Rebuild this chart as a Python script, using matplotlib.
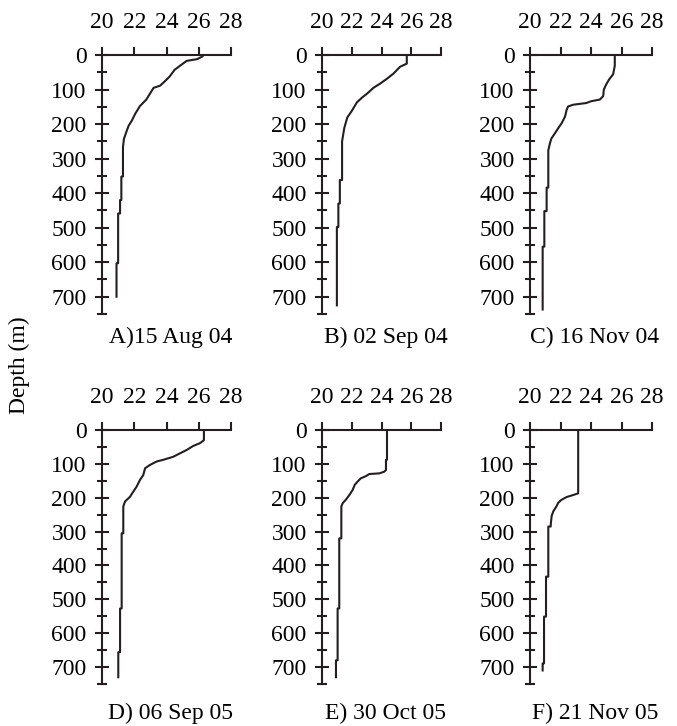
import matplotlib
matplotlib.use("Agg")
import matplotlib.pyplot as plt
from matplotlib.ticker import MultipleLocator

plt.rcParams['font.family'] = ['Liberation Serif', 'DejaVu Serif']

# temperature profiles (deg C) vs depth (m)
depth_a = [0, 5, 12, 17, 29, 43, 62, 76, 89, 95, 110, 129, 148, 171, 190, 205, 224, 243, 267,
           352, 352, 420, 420, 459, 459, 603, 603, 700]
temp_a = [26.3, 26.2, 25.9, 25.25, 24.9, 24.5, 24.2, 23.9, 23.6, 23.2, 23.0, 22.75, 22.35, 22.05,
          21.85, 21.65, 21.5, 21.36, 21.3, 21.3, 21.2, 21.2, 21.12, 21.12, 21.0, 21.0, 20.9, 20.9]

depth_b = [0, 25, 34, 54, 69, 83, 95, 113, 123, 137, 162, 181, 211, 250,
           362, 362, 430, 430, 498, 498, 725]
temp_b = [25.7, 25.7, 25.25, 24.8, 24.36, 23.9, 23.46, 23.0, 22.7, 22.35, 22.0, 21.7, 21.5, 21.35,
          21.35, 21.2, 21.2, 21.1, 21.1, 21.0, 21.0]

depth_c = [0, 31, 56, 70, 85, 100, 119, 129, 134, 139, 144, 149, 159, 178, 198, 212, 227, 242,
           257, 276, 384, 384, 452, 452, 555, 555, 737]
temp_c = [25.56, 25.56, 25.45, 25.2, 25.0, 24.84, 24.8, 24.58, 24.0, 23.7, 22.83, 22.5, 22.4,
          22.3, 22.07, 21.85, 21.63, 21.4, 21.3, 21.2, 21.2, 21.09, 21.09, 20.94, 20.94, 20.83, 20.83]

depth_d = [0, 30, 39, 47, 59, 69, 79, 88, 93, 103, 113, 133, 147, 167, 182, 197, 211, 226,
           305, 305, 527, 527, 656, 656, 730]
temp_d = [26.32, 26.32, 26.07, 25.66, 25.25, 24.83, 24.42, 23.8, 23.39, 22.98, 22.67, 22.56,
          22.36, 22.15, 21.94, 21.74, 21.43, 21.32, 21.32, 21.22, 21.22, 21.12, 21.12, 21.01, 21.01]

depth_e = [0, 88, 88, 118, 123, 128, 130, 136, 143, 152, 162, 177, 192, 206, 216, 226,
           320, 320, 527, 527, 680, 680, 730]
temp_e = [24.37, 24.37, 24.3, 24.3, 24.19, 23.86, 23.18, 22.96, 22.6, 22.4, 22.2, 22.06, 21.84,
          21.6, 21.39, 21.3, 21.3, 21.16, 21.16, 21.05, 21.05, 20.94, 20.94]

depth_f = [0, 187, 192, 198, 206, 215, 225, 240, 254, 279, 285, 285, 433, 433, 551, 551, 689, 689, 710]
temp_f = [23.16, 23.16, 22.83, 22.4, 22.07, 21.85, 21.74, 21.53, 21.42, 21.36, 21.36, 21.2, 21.2,
          21.05, 21.05, 20.92, 20.92, 20.83, 20.83]

titles = ['A)15 Aug 04', 'B) 02 Sep 04', 'C) 16 Nov 04',
          'D) 06 Sep 05', 'E) 30 Oct 05', 'F) 21 Nov 05']
profiles = [(temp_a, depth_a), (temp_b, depth_b), (temp_c, depth_c),
            (temp_d, depth_d), (temp_e, depth_e), (temp_f, depth_f)]

W, H = 677, 726
fig = plt.figure(figsize=(W / 100, H / 100), dpi=100)

# panel boxes in pixels: left, right, top, bottom
cols = [(102, 231), (322, 441), (530, 652)]
rows = [(55, 314), (430, 684)]
title_y = [337, 713]

ink = '#231f20'
fs = 17
for i, (temps, depths) in enumerate(profiles):
    r, c = divmod(i, 3)
    x0, x1 = cols[c]
    y0, y1 = rows[r]
    ax = fig.add_axes([x0 / W, 1 - y1 / H, (x1 - x0) / W, (y1 - y0) / H])
    ax.plot(temps, depths, color=ink, lw=1.5)
    ax.set_xlim(20, 28)
    ax.set_ylim(750, 0)
    ax.patch.set_visible(False)
    for s in ['right', 'bottom']:
        ax.spines[s].set_visible(False)
    for s in ['left', 'top']:
        ax.spines[s].set_linewidth(1.5)
        ax.spines[s].set_color(ink)
    ax.xaxis.set_ticks_position('top')
    ax.xaxis.set_major_locator(MultipleLocator(2))
    ax.tick_params(axis='x', direction='out', length=6, width=1.5, color=ink,
                   labelsize=fs, pad=10)
    ax.yaxis.set_minor_locator(MultipleLocator(50))
    ax.set_yticks(range(0, 701, 100))
    ax.tick_params(axis='y', which='major', direction='inout', length=10, width=1.5,
                   color=ink, labelsize=fs, pad=6)
    ax.tick_params(axis='y', which='minor', direction='inout', length=7, width=1.5, color=ink)
    fig.text((x0 + x1) / 2 / W + 0.006, 1 - title_y[r] / H, titles[i],
             ha='center', va='center', fontsize=fs)

fig.text(19 / W, 1 - 365 / H, 'Depth (m)', rotation=90, ha='center', va='center', fontsize=fs)

fig.savefig('out.png', dpi=100)
